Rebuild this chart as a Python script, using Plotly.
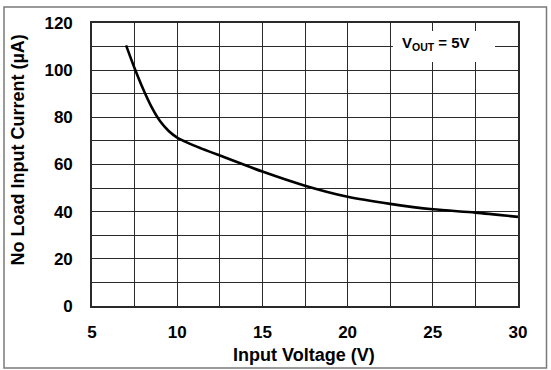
import plotly.graph_objects as go

# Data
voltage = [7.0, 7.5, 8.0, 8.5, 9.0, 9.5, 10.0, 10.5, 11.0, 12.5, 15.0, 17.5, 20.0, 22.5, 25.0, 27.5, 30.0]
current = [110.5, 100.8, 92.0, 84.3, 78.3, 74.2, 71.4, 69.6, 68.0, 63.8, 57.0, 51.0, 46.3, 43.3, 41.0, 39.6, 37.8]

x_ticks = [5, 10, 15, 20, 25, 30]
y_ticks = [0, 20, 40, 60, 80, 100, 120]

FONT = "Liberation Sans, Arial, sans-serif"
GRID = "#2a2a2a"

fig = go.Figure()
fig.add_trace(go.Scatter(
    x=voltage, y=current, mode="lines",
    line=dict(color="black", width=2.6, shape="spline", smoothing=0.8),
    showlegend=False, hoverinfo="skip",
))

axis_common = dict(
    showgrid=True, gridcolor=GRID, gridwidth=1.4,
    showline=True, linecolor=GRID, linewidth=1.6, mirror=True,
    zeroline=False, ticks="",
    tickfont=dict(family=FONT, size=17, color="black", weight="bold"),
)

fig.update_xaxes(
    range=[5, 30], tickvals=x_ticks, ticktext=[str(v) for v in x_ticks],
    minor=dict(dtick=2.5, showgrid=True, gridcolor=GRID, gridwidth=1.4, tick0=5),
    ticklabelstandoff=10,
    **axis_common,
)
fig.update_yaxes(
    range=[0, 120], tickvals=y_ticks, ticktext=[str(v) for v in y_ticks],
    minor=dict(dtick=10, showgrid=True, gridcolor=GRID, gridwidth=1.4, tick0=0),
    ticklabelstandoff=14,
    **axis_common,
)

# white box behind the label
fig.add_shape(type="rect", xref="x", yref="y", x0=22.66, x1=28.65, y0=103.5, y1=116.6,
              fillcolor="white", line=dict(width=0), layer="above")
fig.add_annotation(x=23.07, y=111.1, xref="x", yref="y", xanchor="left", yanchor="middle",
                   text="V<sub>OUT</sub> = 5V", showarrow=False,
                   font=dict(family=FONT, size=15, color="black", weight="bold"))

# axis titles
fig.add_annotation(x=(303.5 - 92) / 426, y=(306 - 355) / 283, xref="paper", yref="paper",
                   xanchor="center", yanchor="middle", text="Input Voltage (V)", showarrow=False,
                   font=dict(family=FONT, size=18, color="black", weight="bold"))
fig.add_annotation(x=(17.5 - 92) / 426, y=(306 - 150) / 283, xref="paper", yref="paper",
                   xanchor="center", yanchor="middle", text="No Load Input Current (µA)",
                   textangle=-90, showarrow=False,
                   font=dict(family=FONT, size=18, color="black", weight="bold"))

# outer frame
fig.add_shape(type="rect", xref="paper", yref="paper",
              x0=(4 - 92) / 426, x1=(546.5 - 92) / 426,
              y0=(306 - 368) / 283, y1=(306 - 7) / 283,
              line=dict(color="#7a7a7a", width=1.5), fillcolor="rgba(0,0,0,0)")

fig.update_layout(
    width=551, height=370,
    margin=dict(l=92, r=33, t=23, b=64),
    paper_bgcolor="white", plot_bgcolor="white",
)

fig.write_html("out.html")
